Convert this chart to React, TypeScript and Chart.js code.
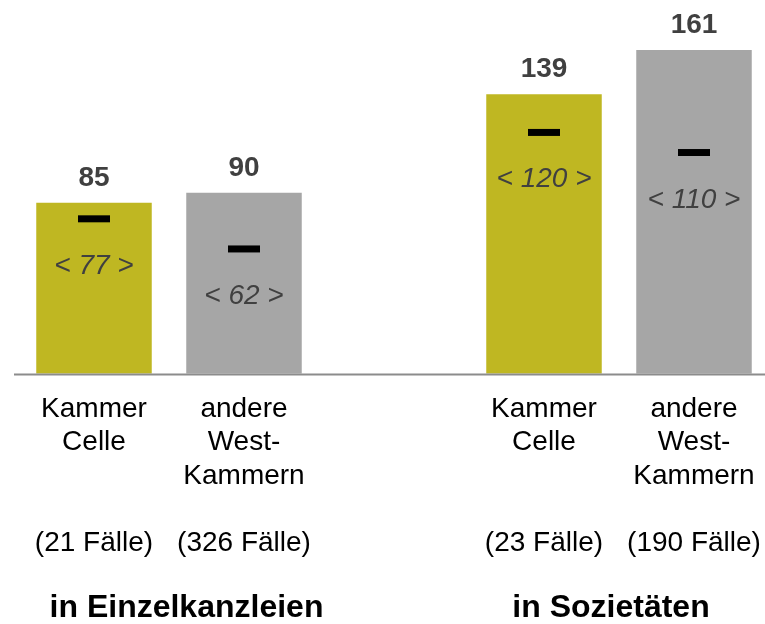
import React, { useEffect, useRef } from 'react';
import { Chart, registerables } from 'chart.js';

Chart.register(...registerables);

// ---- data ----
const categories: string[][] = [
  ['Kammer', 'Celle', '', '', '(21 Fälle)'],
  ['andere', 'West-', 'Kammern', '', '(326 Fälle)'],
  [''],
  ['Kammer', 'Celle', '', '', '(23 Fälle)'],
  ['andere', 'West-', 'Kammern', '', '(190 Fälle)'],
];
const averageValues: (number | null)[] = [85, 90, null, 139, 161];
const medianValues: (number | null)[] = [77, 62, null, 120, 110];
const groupLabels: string[] = ['in Einzelkanzleien', 'in Sozietäten'];

const OLIVE = '#BFB722';
const GRAY = '#A6A6A6';
const barColors = [OLIVE, GRAY, 'rgba(0,0,0,0)', OLIVE, GRAY];
const FAMILY = '"Liberation Sans", Arial, sans-serif';

const annotatePlugin = {
  id: 'annotate',
  afterDatasetsDraw(chart: any) {
    const ctx: CanvasRenderingContext2D = chart.ctx;
    const yScale = chart.scales.y;
    const y0 = yScale.getPixelForValue(0);
    ctx.save();
    // baseline
    ctx.strokeStyle = '#8C8C8C';
    ctx.lineWidth = 2;
    ctx.beginPath();
    ctx.moveTo(14, y0 + 1);
    ctx.lineTo(chart.width, y0 + 1);
    ctx.stroke();

    const barMeta = chart.getDatasetMeta(1);
    ctx.textAlign = 'center';
    ctx.textBaseline = 'alphabetic';
    averageValues.forEach((v, i) => {
      if (v == null) return;
      const bar = barMeta.data[i];
      ctx.font = `bold 28px ${FAMILY}`;
      ctx.fillStyle = '#404040';
      ctx.fillText(String(v), bar.x, bar.y - 17);
      const m = medianValues[i];
      if (m != null) {
        ctx.font = `italic 28px ${FAMILY}`;
        ctx.fillStyle = '#404040';
        ctx.fillText(`< ${m} >`, bar.x, yScale.getPixelForValue(m) + 55);
      }
    });

    ctx.font = `bold 32px ${FAMILY}`;
    ctx.fillStyle = '#000000';
    ctx.fillText(groupLabels[0], 186.5, 617);
    ctx.fillText(groupLabels[1], 611, 617);
    ctx.restore();
  },
};

export default function App() {
  const ref = useRef<HTMLCanvasElement | null>(null);
  useEffect(() => {
    if (!ref.current) return;
    const chart = new Chart(ref.current, {
      data: {
        labels: categories,
        datasets: [
          {
            type: 'line',
            data: medianValues,
            showLine: false,
            pointStyle: 'line',
            pointRadius: 16,
            pointHoverRadius: 16,
            pointBorderWidth: 7,
            pointHoverBorderWidth: 7,
            pointBorderColor: '#000000',
            pointBackgroundColor: '#000000',
            borderColor: '#000000',
            order: 0,
            clip: false,
          } as any,
          {
            type: 'bar',
            data: averageValues,
            backgroundColor: barColors,
            hoverBackgroundColor: barColors,
            borderWidth: 0,
            categoryPercentage: 1,
            barPercentage: 0.77,
            order: 1,
            clip: false,
          } as any,
        ],
      },
      options: {
        animation: false,
        responsive: false,
        events: [],
        layout: { padding: { left: 94, right: 71, top: 32, bottom: 0 } },
        plugins: {
          legend: { display: false },
          tooltip: { enabled: false },
        },
        scales: {
          x: {
            type: 'category',
            offset: false,
            grid: { display: false, drawTicks: false },
            border: { display: false },
            ticks: {
              color: '#000000',
              font: { family: FAMILY, size: 28, lineHeight: 1.196 },
              padding: 19,
              maxRotation: 0,
              minRotation: 0,
              autoSkip: false,
            },
            afterFit(scale: any) {
              scale.height = 250.5;
              scale.paddingLeft = 0;
              scale.paddingRight = 0;
            },
          },
          y: { display: false, min: 0, max: 170 },
        },
      } as any,
      plugins: [annotatePlugin],
    });
    return () => chart.destroy();
  }, []);
  return (
    <div style={{ position: 'absolute', left: 0, top: 0, width: 765, height: 624 }}>
      <canvas ref={ref} width={765} height={624} />
    </div>
  );
}
